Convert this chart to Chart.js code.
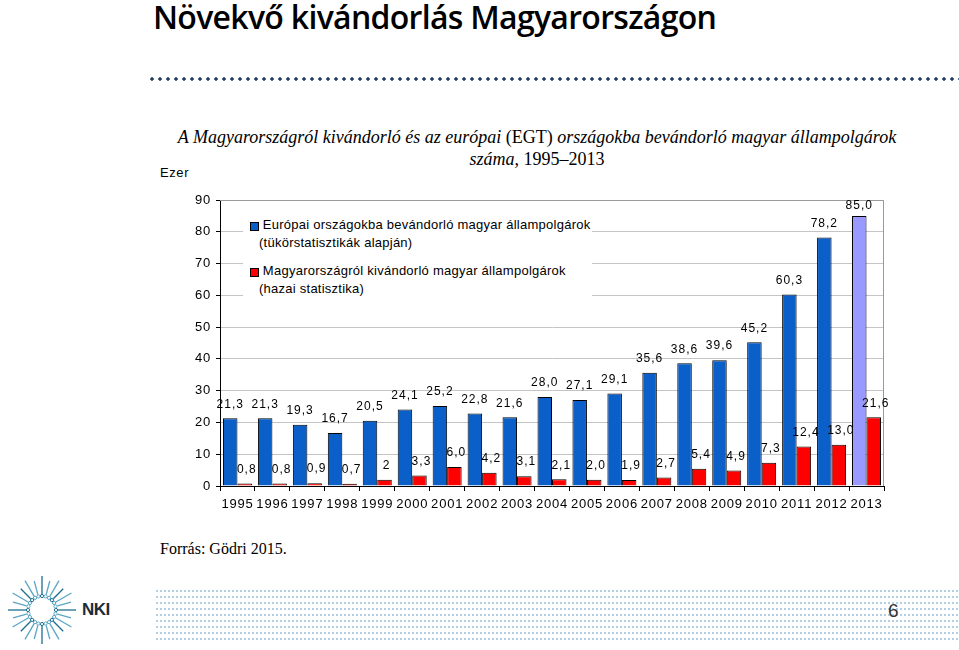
<!DOCTYPE html>
<html lang="hu">
<head>
<meta charset="utf-8">
<script src="https://cdn.jsdelivr.net/npm/chart.js@4.4.1/dist/chart.umd.min.js"></script>
<style>
    body { margin: 0; width: 959px; height: 650px; background: #fff; position: relative; overflow: hidden; font-family: "Liberation Sans", Arial, sans-serif; }
    .cim { position: absolute; left: 153px; top: -5px; font-family: "Open Sans", sans-serif; font-weight: 600; font-size: 32px; letter-spacing: -0.7px; color: #000; white-space: nowrap; }
    .pontsor { position: absolute; left: 148px; top: 77px; width: 811px; height: 4px;
        background-image: radial-gradient(circle, #1f3d5c 1.5px, transparent 1.8px); background-size: 8px 4px; }
    .alcim { position: absolute; left: 140px; top: 126px; width: 794px; text-align: center; font-family: "Liberation Serif", serif; font-size: 18px; line-height: 22px; color: #000; }
    .alcim i { font-style: italic; }
    .ezer { position: absolute; left: 160px; top: 165px; font-size: 13px; letter-spacing: 0.6px; }
    #chartbox { position: absolute; left: 150px; top: 165px; width: 750px; height: 360px; }
    .jelmagyarazat { position: absolute; left: 243px; top: 204px; width: 349px; height: 96px; background: #fff; font-size: 13px; line-height: 17.5px; letter-spacing: 0.25px; color: #000; }
    .jelmagyarazat .sor { position: absolute; left: 16px; white-space: nowrap; }
    .jelmagyarazat .negyzet { position: absolute; left: 7px; width: 7px; height: 7px; border: 1px solid #000; }
    .forras { position: absolute; left: 160px; top: 540px; font-family: "Liberation Serif", serif; font-size: 16px; }
    .lablec { position: absolute; left: 155px; top: 588px; width: 804px; height: 56px;
        background-image: radial-gradient(circle, #b4cfe2 0.8px, transparent 1.2px); background-size: 4px 6px; }
    .oldalszam { position: absolute; left: 888px; top: 600px; font-size: 19px; color: #333; }
    .nki { position: absolute; left: 82px; top: 600px; font-family: "Liberation Sans", sans-serif; font-weight: bold; font-size: 17px; color: #1b2a3a; letter-spacing: -0.5px; }
    .logo { position: absolute; left: 6px; top: 573px; }
</style>
</head>
<body>

<div class="cim">Növekvő kivándorlás Magyarországon</div>
<div class="pontsor"></div>
<div class="alcim"><i>A Magyarországról kivándorló és az európai</i> (EGT) <i>országokba bevándorló magyar állampolgárok</i><br><i>száma,</i> 1995–2013</div>
<div class="ezer">Ezer</div>

<div id="chartbox"><canvas id="chart" width="750" height="360"></canvas></div>

<div class="jelmagyarazat">
    <div class="negyzet" style="top:18px; background:#0a5fc8;"></div>
    <div class="sor" style="top:12px;">&nbsp;Európai országokba bevándorló magyar állampolgárok</div>
    <div class="sor" style="top:30px;">(tükörstatisztikák alapján)</div>
    <div class="negyzet" style="top:64px; background:#ff0000;"></div>
    <div class="sor" style="top:58px;">&nbsp;Magyarországról kivándorló magyar állampolgárok</div>
    <div class="sor" style="top:76px;">(hazai statisztika)</div>
</div>

<div class="forras">Forrás: Gödri 2015.</div>
<div class="lablec"></div>
<svg class="logo" width="72" height="74" id="logo"></svg>
<div class="nki">NKI</div>
<div class="oldalszam">6</div>

<script>
const evek = ['1995', '1996', '1997', '1998', '1999', '2000', '2001', '2002', '2003', '2004',
    '2005', '2006', '2007', '2008', '2009', '2010', '2011', '2012', '2013'];
const europai = [21.3, 21.3, 19.3, 16.7, 20.5, 24.1, 25.2, 22.8, 21.6, 28.0,
    27.1, 29.1, 35.6, 38.6, 39.6, 45.2, 60.3, 78.2, 85.0];
const hazai = [0.8, 0.8, 0.9, 0.7, 2, 3.3, 6.0, 4.2, 3.1, 2.1,
    2.0, 1.9, 2.7, 5.4, 4.9, 7.3, 12.4, 13.0, 21.6];
const europaiCimkek = ['21,3', '21,3', '19,3', '16,7', '20,5', '24,1', '25,2', '22,8', '21,6', '28,0',
    '27,1', '29,1', '35,6', '38,6', '39,6', '45,2', '60,3', '78,2', '85,0'];
const hazaiCimkek = ['0,8', '0,8', '0,9', '0,7', '2', '3,3', '6,0', '4,2', '3,1', '2,1',
    '2,0', '1,9', '2,7', '5,4', '4,9', '7,3', '12,4', '13,0', '21,6'];
const yTickek = [0, 10, 20, 30, 40, 50, 60, 70, 80, 90];

// logo: egyszeru sugaras minta
(function () {
    let svg = document.getElementById('logo');
    let html = '';
    for (let i = 0; i < 24; i++) {
        let a = i / 24 * Math.PI * 2;
        let r1 = 16, r2 = (i % 2 ? 30 : 34);
        let cx = 36, cy = 37;
        let col = i % 3 === 0 ? '#1d6e8f' : '#5aa6c4';
        html += '<circle cx="' + (cx + Math.cos(a) * 14) + '" cy="' + (cy + Math.sin(a) * 14) + '" r="1.6" fill="none" stroke="' + col + '" stroke-width="1"/>';
        html += '<line x1="' + (cx + Math.cos(a) * r1) + '" y1="' + (cy + Math.sin(a) * r1) + '" x2="' + (cx + Math.cos(a) * r2) + '" y2="' + (cy + Math.sin(a) * r2) + '" stroke="' + col + '" stroke-width="1.3"/>';
    }
    svg.innerHTML = html;
})();

const keret = {
    id: 'keret',
    beforeDraw(chart) {
        // kicsit ritkitott betuk, mint az eredeti abran
        chart.ctx.letterSpacing = '0.8px';
    },
    beforeDatasetsDraw(chart) {
        const {ctx, chartArea} = chart;
        ctx.save();
        ctx.strokeStyle = '#9a9a9a';
        ctx.lineWidth = 1;
        ctx.beginPath();
        ctx.moveTo(chartArea.left, chartArea.top + 0.5);
        ctx.lineTo(chartArea.right - 0.5, chartArea.top + 0.5);
        ctx.lineTo(chartArea.right - 0.5, chartArea.bottom);
        ctx.stroke();
        ctx.restore();
    }
};

const cimkek = {
    id: 'cimkek',
    afterDatasetsDraw(chart) {
        const ctx = chart.ctx;
        ctx.save();
        ctx.font = '12px "Liberation Sans", Arial, sans-serif';
        ctx.letterSpacing = '1px';
        ctx.fillStyle = '#000';
        ctx.textAlign = 'center';
        ctx.textBaseline = 'middle';
        const szovegek = [europaiCimkek, hazaiCimkek];
        chart.data.datasets.forEach(function (ds, i) {
            chart.getDatasetMeta(i).data.forEach(function (bar, j) {
                let dy = (i === 0 && j === 18) ? 10 : 14;
                ctx.fillText(szovegek[i][j], bar.x + (i === 1 ? 2 : 0), bar.y - dy);
            });
        });
        ctx.restore();
    }
};

const kekSzinek = europai.map(function (v, i) {
    return i === europai.length - 1 ? '#9999ff' : '#0a5fc8';
});

var ctx = document.getElementById('chart').getContext('2d');
myChart = new Chart(ctx, {
    type: 'bar',
    data: {
        labels: evek,
        datasets: [{
                label: 'Európai országokba bevándorló magyar állampolgárok (tükörstatisztikák alapján)',
                data: europai,
                backgroundColor: kekSzinek,
                borderColor: '#000',
                borderWidth: 1,
                barPercentage: 1,
                categoryPercentage: 0.83
            }, {
                label: 'Magyarországról kivándorló magyar állampolgárok (hazai statisztika)',
                data: hazai,
                backgroundColor: '#ff0000',
                borderColor: '#000',
                borderWidth: 1,
                barPercentage: 1,
                categoryPercentage: 0.83
            }]
    },
    options: {
        responsive: false,
        animation: false,
        devicePixelRatio: 1,
        layout: {
            padding: {top: 35, right: 16, bottom: 9, left: 0}
        },
        plugins: {
            legend: {display: false},
            tooltip: {enabled: false}
        },
        scales: {
            x: {
                offset: true,
                grid: {
                    offset: true,
                    drawOnChartArea: false,
                    drawTicks: true,
                    tickLength: 5,
                    tickColor: '#000'
                },
                border: {color: '#000', width: 1},
                ticks: {
                    color: '#000',
                    padding: 6,
                    maxRotation: 0,
                    autoSkip: false,
                    font: {family: '"Liberation Sans", Arial, sans-serif', size: 13}
                },
                afterFit: function (scale) {
                    scale.height = 30;
                }
            },
            y: {
                min: 0,
                max: 90,
                afterBuildTicks: function (scale) {
                    scale.ticks = yTickek.map(function (v) {
                        return {value: v};
                    });
                },
                grid: {
                    color: '#c4c4c4',
                    tickColor: '#000',
                    tickLength: 4
                },
                border: {color: '#000', width: 1},
                ticks: {
                    color: '#000',
                    padding: 5,
                    font: {family: '"Liberation Sans", Arial, sans-serif', size: 13}
                },
                afterFit: function (scale) {
                    scale.width = 70;
                }
            }
        }
    },
    plugins: [keret, cimkek]
});
</script>
</body>
</html>
